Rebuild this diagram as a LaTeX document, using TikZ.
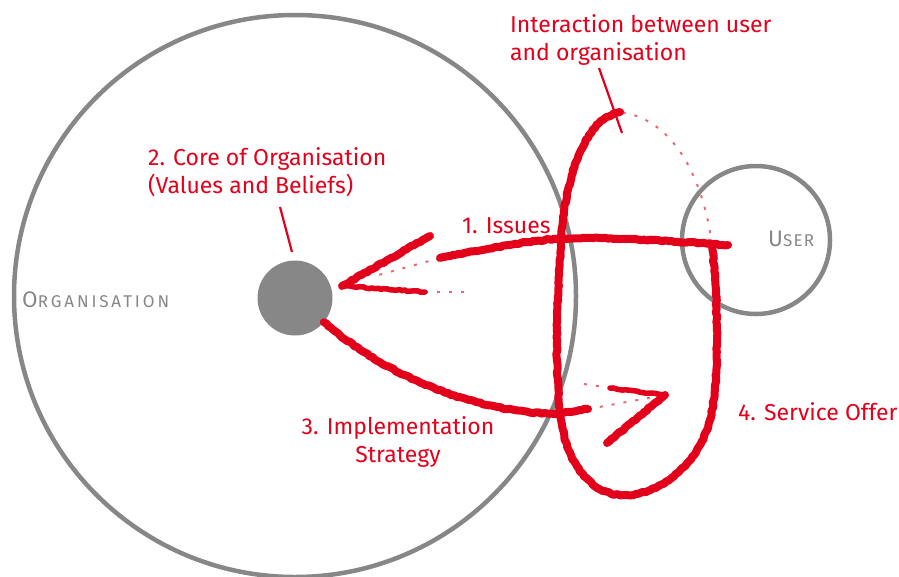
\documentclass[tikz,border=0pt]{standalone}
\usepackage{fontspec}
\setmainfont{Fira Sans}
\usetikzlibrary{decorations.pathmorphing}
\definecolor{chalk}{HTML}{E2001A}
\definecolor{greyc}{HTML}{878787}
\tikzset{
  ring/.style={circle, draw=greyc, line width=4.5pt, inner sep=0pt},
  redlbl/.style={text=chalk, font=\fontsize{23}{28}\selectfont, inner sep=0pt},
  greylbl/.style={text=greyc, inner sep=0pt},
  chalkline/.style={draw=chalk, line width=8pt, line cap=round, line join=round,
    decorate, decoration={random steps, segment length=3pt, amplitude=0.7pt}},
  chalkthin/.style={draw=chalk, line width=5.5pt, line cap=round, line join=round,
    decorate, decoration={random steps, segment length=3pt, amplitude=0.7pt}},
  faint/.style={draw=chalk, line width=2pt, dash pattern=on 3pt off 9pt, opacity=0.6},
  leader/.style={draw=chalk, line width=2.2pt}
}
\begin{document}
\begin{tikzpicture}[x=1pt,y=-1pt]
\useasboundingbox (0,0) rectangle (899,576);
% grey shapes
\node[ring, minimum size=562pt] (org) at (295,296) {};
\node[circle, fill=greyc, minimum size=75pt, inner sep=0pt] (core) at (295,298) {};
\node[ring, minimum size=148pt] (user) at (756,240) {};
\node[greylbl, anchor=base west] (orglbl) at (22,307)
  {\addfontfeatures{LetterSpace=17}\fontsize{22.5}{22}\selectfont O\fontsize{17}{17}\selectfont RGANISATION};
\node[greylbl, anchor=base west] (userlbl) at (768,246)
  {\addfontfeatures{LetterSpace=7}\fontsize{22.5}{22}\selectfont U\fontsize{17}{17}\selectfont SER};
% red labels
\node[redlbl, anchor=base west, align=left] (lint) at (510,60)
  {Interaction between user\\and organisation};
\node[redlbl, anchor=base west, align=left] (lcore) at (148,193)
  {2. Core of Organisation\\(Values and Beliefs)};
\node[redlbl, anchor=base west] (liss) at (462,233) {1. Issues};
\node[redlbl, anchor=base, align=center] (limp) at (398,462)
  {3. Implementation\\Strategy};
\node[redlbl, anchor=base west] (lserv) at (738,420) {4. Service Offer};
% leaders
\coordinate (a1) at (280,207); \coordinate (a2) at (292,252);
\draw[leader] (a1) -- (a2);
\coordinate (b1) at (599,68); \coordinate (b2) at (622,133);
\draw[leader] (b1) -- (b2);
% interaction loop
\coordinate (top) at (620,112);
\coordinate (rt) at (712,245);
\path[chalkline] (top) .. controls (590,118) and (570,160) .. (563,220)
  .. controls (557,280) and (553,380) .. (563,430)
  .. controls (572,475) and (600,497) .. (627,495)
  .. controls (665,493) and (700,460) .. (710,420)
  .. controls (720,380) and (718,300) .. (rt);
\draw[faint] (rt) .. controls (705,190) and (680,120) .. (top);
% issues
\coordinate (i0) at (728,245);
\coordinate (i1) at (440,258);
\path[chalkline] (i0) .. controls (650,240) and (580,235) .. (545,240)
  .. controls (510,244) and (480,250) .. (i1);
\draw[faint] (i1) -- (375,276);
\coordinate (h1) at (430,236); \coordinate (h2) at (342,286); \coordinate (h3) at (465,292);
\path[chalkline] (h1) -- (h2);
\path[chalkthin] (h2) -- (425,292);
\draw[faint] (425,292) -- (h3);
% implementation
\coordinate (m1) at (555,414);
\coordinate (m2) at (588,409);
\coordinate (tip) at (665,395);
\path[chalkline] (core.-40) .. controls (380,370) and (460,410) .. (m1) -- (m2);
\draw[faint] (m2) -- (tip);
\path[chalkthin] (610,388) -- (tip);
\draw[faint] (584,384) -- (610,388);
\path[chalkline] (tip) -- (607,443);
\end{tikzpicture}
\end{document}
